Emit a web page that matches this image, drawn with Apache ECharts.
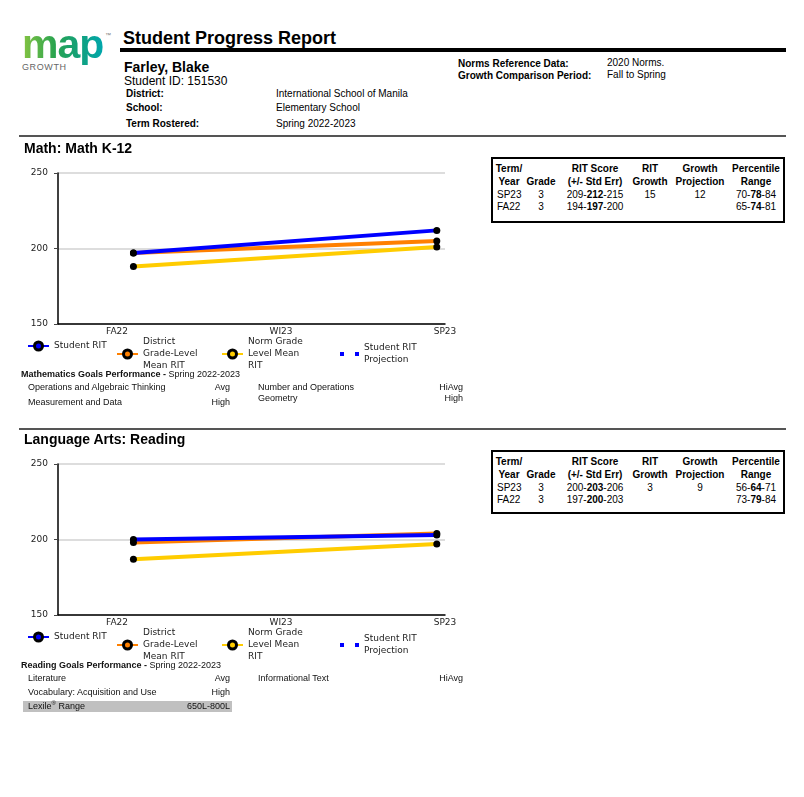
<!DOCTYPE html>
<html>
<head>
<meta charset="utf-8">
<script src="https://cdn.jsdelivr.net/npm/echarts@6/dist/echarts.min.js"></script>
<style>
  html, body { margin:0; padding:0; background:#fff; }
  #page { position:relative; width:804px; height:797px; overflow:hidden; font-family:'Liberation Sans', Arial, sans-serif; color:#000; }
  .t { position:absolute; white-space:nowrap; }
  .chart { position:absolute; left:0; width:480px; height:225px; }
</style>
</head>
<body>
<div id="page">
  <div id="mathChart" class="chart" style="top:150px"></div>
  <div id="readChart" class="chart" style="top:441px"></div>
</div>
<script>
// ---------------- data ----------------
const terms = ['FA22', 'WI23', 'SP23'];
const termTicks = [0, 1, 2];
const testTerms = [0.1, 1.95];           // FA22 test, SP23 test (in term units)
const yTicks = [150, 200, 250];

const seriesNames = ['Student RIT', 'District Grade-Level Mean RIT', 'Norm Grade Level Mean RIT', 'Student RIT Projection'];
const legendLabels = ['Student RIT', 'District\nGrade-Level\nMean RIT', 'Norm Grade\nLevel Mean\nRIT', 'Student RIT\nProjection'];

const mathStudent  = [197, 212];
const mathDistrict = [197, 205];
const mathNorm     = [188, 201];
const mathProjection = [];

const readStudent  = [200, 203];
const readDistrict = [198, 204];
const readNorm     = [187, 197];
const readProjection = [];

const tableHeader1 = ['Term/', '', 'RIT Score', 'RIT', 'Growth', 'Percentile'];
const tableHeader2 = ['Year', 'Grade', '(+/- Std Err)', 'Growth', 'Projection', 'Range'];
const mathRows = [
  ['SP23', '3', ['209', '212', '215'], '15', '12', ['70', '78', '84']],
  ['FA22', '3', ['194', '197', '200'], '', '', ['65', '74', '81']]
];
const readRows = [
  ['SP23', '3', ['200', '203', '206'], '3', '9', ['56', '64', '71']],
  ['FA22', '3', ['197', '200', '203'], '', '', ['73', '79', '84']]
];

const mathGoalsLeft  = [['Operations and Algebraic Thinking', 'Avg'], ['Measurement and Data', 'High']];
const mathGoalsRight = [['Number and Operations', 'HiAvg'], ['Geometry', 'High']];
const readGoalsLeft  = [['Literature', 'Avg'], ['Vocabulary: Acquisition and Use', 'High']];
const readGoalsRight = [['Informational Text', 'HiAvg']];
const lexileRange = '650L-800L';

// ---------------- text helpers ----------------
const page = document.getElementById('page');
function t(x, y, html, style, align, lh) {
  lh = lh || 14;
  const d = document.createElement('div');
  d.className = 't';
  d.innerHTML = html;
  d.style.cssText += (style || '') + ';line-height:' + lh + 'px;top:' + (y - lh / 2) + 'px;left:' + x + 'px;';
  if (align === 'center') d.style.transform = 'translateX(-50%)';
  if (align === 'right') d.style.transform = 'translateX(-100%)';
  page.appendChild(d);
  return d;
}
function box(x, y, w, h, style) {
  const d = document.createElement('div');
  d.style.cssText = 'position:absolute;left:' + x + 'px;top:' + y + 'px;width:' + w + 'px;height:' + h + 'px;' + (style || '');
  page.appendChild(d);
  return d;
}

// ---------------- header ----------------
t(22, 44, 'map', "font:bold 41px 'Liberation Sans',Arial,sans-serif;letter-spacing:-1px;background:linear-gradient(90deg,#86c441 0%,#2aa44f 40%,#12a07a 70%,#00a7ad 100%);-webkit-background-clip:text;background-clip:text;color:transparent;", 'left', 41);
t(105, 35, '&#8482;', 'font-size:6px;color:#777;', 'left', 8);
t(22, 67, 'GROWTH', 'font-size:9px;color:#666;letter-spacing:0.6px;', 'left', 11);

t(123, 38, 'Student Progress Report', 'font-weight:bold;font-size:18px;', 'left', 20);
box(120, 48, 666, 4, 'background:#000;');
t(124, 67, 'Farley, Blake', 'font-weight:bold;font-size:14px;', 'left', 16);
t(124, 81, 'Student ID: 151530', 'font-size:12px;', 'left', 14);
const infoL = [['District:', 'International School of Manila', 94], ['School:', 'Elementary School', 108], ['Term Rostered:', 'Spring 2022-2023', 124]];
infoL.forEach(r => { t(126, r[2], r[0], 'font-weight:bold;font-size:10px;', 'left', 12); t(276, r[2], r[1], 'font-size:10px;', 'left', 12); });
t(458, 64, 'Norms Reference Data:', 'font-weight:bold;font-size:10px;', 'left', 12);
t(607, 63, '2020 Norms.', 'font-size:10px;', 'left', 12);
t(458, 76, 'Growth Comparison Period:', 'font-weight:bold;font-size:10px;', 'left', 12);
t(607, 75, 'Fall to Spring', 'font-size:10px;', 'left', 12);

box(19, 135, 767, 2, 'background:#555;');
t(24, 148, 'Math: Math K-12', 'font-weight:bold;font-size:14px;', 'left', 16);
box(19, 428, 767, 2, 'background:#555;');
t(24, 439, 'Language Arts: Reading', 'font-weight:bold;font-size:14px;', 'left', 16);

// ---------------- tables ----------------
function makeTable(top, rows, h) {
  box(491, top, 290, h, 'border:2px solid #000;box-sizing:content-box;');
  const cx = [509, 541, 595, 650, 700, 756];
  const hs = 'font-weight:bold;font-size:10px;';
  tableHeader1.forEach((s, i) => { if (s) t(cx[i], top + 12, s, hs, 'center', 12); });
  tableHeader2.forEach((s, i) => { if (s) t(cx[i], top + 24.5, s, hs, 'center', 12); });
  rows.forEach((r, k) => {
    const y = top + 37.5 + k * 12.5;
    const ds = 'font-size:10px;';
    t(497, y, r[0], ds, 'left', 12);
    t(cx[1], y, r[1], ds, 'center', 12);
    t(cx[2], y, r[2][0] + '-<b>' + r[2][1] + '</b>-' + r[2][2], ds, 'center', 12);
    if (r[3]) t(cx[3], y, r[3], ds, 'center', 12);
    if (r[4]) t(cx[4], y, r[4], ds, 'center', 12);
    t(cx[5], y, r[5][0] + '-<b>' + r[5][1] + '</b>-' + r[5][2], ds, 'center', 12);
  });
}
makeTable(157, mathRows, 62);
makeTable(450, readRows, 60);

// ---------------- goals ----------------
const gs = 'font-size:9px;color:#111;';
t(21, 374.5, '<b>Mathematics Goals Performance -</b> Spring 2022-2023', gs, 'left', 11);
t(28, 387, mathGoalsLeft[0][0], gs, 'left', 11); t(230, 387, mathGoalsLeft[0][1], gs, 'right', 11);
t(28, 402, mathGoalsLeft[1][0], gs, 'left', 11); t(230, 402, mathGoalsLeft[1][1], gs, 'right', 11);
t(258, 387, mathGoalsRight[0][0], gs, 'left', 11); t(463, 387, mathGoalsRight[0][1], gs, 'right', 11);
t(258, 398, mathGoalsRight[1][0], gs, 'left', 11); t(463, 398, mathGoalsRight[1][1], gs, 'right', 11);

t(21, 665.5, '<b>Reading Goals Performance -</b> Spring 2022-2023', gs, 'left', 11);
t(28, 678, readGoalsLeft[0][0], gs, 'left', 11); t(230, 678, readGoalsLeft[0][1], gs, 'right', 11);
t(28, 692.5, readGoalsLeft[1][0], gs, 'left', 11); t(230, 692.5, readGoalsLeft[1][1], gs, 'right', 11);
t(258, 678, readGoalsRight[0][0], gs, 'left', 11); t(463, 678, readGoalsRight[0][1], gs, 'right', 11);
box(23, 701, 209, 11, 'background:#c0c0c0;');
t(28, 706.5, 'Lexile<sup style="font-size:6px;line-height:0">&reg;</sup> Range', gs, 'left', 11);
t(230, 706.5, lexileRange, gs, 'right', 11);

// ---------------- charts ----------------
const colors = ['#0000ff', '#ff8000', '#ffcc00', '#0000ff'];
function makeChart(el, student, district, norm, projection) {
  const chart = echarts.init(el, null, { renderer: 'canvas' });
  const pts = arr => arr.map((v, i) => [testTerms[i], v]);
  const legendPos = [[27, 190], [116, 186], [221, 186], [340, 192]];
  const legends = seriesNames.map((n, i) => ({
    left: legendPos[i][0], top: legendPos[i][1], padding: 0, orient: 'horizontal',
    itemWidth: i === 3 ? 19 : 21, itemHeight: i === 3 ? 4 : 10, itemGap: 0,
    data: [i === 3
      ? { name: n, icon: 'path://M0,0L4,0L4,4L0,4Z M15,0L19,0L19,4L15,4Z', itemStyle: { color: colors[3] } }
      : { name: n, itemStyle: { color: colors[i], borderColor: '#000', borderWidth: 3 } }],
    formatter: () => legendLabels[i],
    textStyle: { fontFamily: 'DejaVu Sans', fontSize: 9, color: '#222', lineHeight: 12 },
    selectedMode: false
  }));
  chart.setOption({
    animation: false,
    textStyle: { fontFamily: 'DejaVu Sans' },
    grid: { left: 58, right: 35, top: 23, height: 151 },
    legend: legends,
    xAxis: {
      type: 'value', min: -0.36, max: 2,
      axisLine: { onZero: false, lineStyle: { color: '#000', width: 1.5 } },
      axisTick: { show: false },
      splitLine: { show: false },
      axisLabel: { customValues: termTicks, formatter: v => terms[termTicks.indexOf(v)] || '', fontSize: 9, color: '#222', margin: 3 }
    },
    yAxis: {
      type: 'value', min: yTicks[0], max: yTicks[yTicks.length - 1], interval: 50,
      axisLine: { show: true, onZero: false, lineStyle: { color: '#000', width: 1.5 } },
      axisTick: { show: true, length: 4, lineStyle: { color: '#444' } },
      splitLine: { lineStyle: { color: '#d2d2d2', width: 1.5 } },
      axisLabel: { fontSize: 9, color: '#222', margin: 10 }
    },
    series: [
      { name: seriesNames[2], type: 'line', data: pts(norm), symbol: 'circle', symbolSize: 7, itemStyle: { color: '#000' }, lineStyle: { color: colors[2], width: 4 }, z: 2 },
      { name: seriesNames[1], type: 'line', data: pts(district), symbol: 'circle', symbolSize: 7, itemStyle: { color: '#000' }, lineStyle: { color: colors[1], width: 4 }, z: 3 },
      { name: seriesNames[0], type: 'line', data: pts(student), symbol: 'circle', symbolSize: 7, itemStyle: { color: '#000' }, lineStyle: { color: colors[0], width: 4 }, z: 4 },
      { name: seriesNames[3], type: 'line', data: pts(projection), symbol: 'none', itemStyle: { color: colors[3] }, lineStyle: { color: colors[3], width: 3, type: [4, 11] }, z: 5 }
    ]
  });
  return chart;
}
makeChart(document.getElementById('mathChart'), mathStudent, mathDistrict, mathNorm, mathProjection);
makeChart(document.getElementById('readChart'), readStudent, readDistrict, readNorm, readProjection);
</script>
</body>
</html>
